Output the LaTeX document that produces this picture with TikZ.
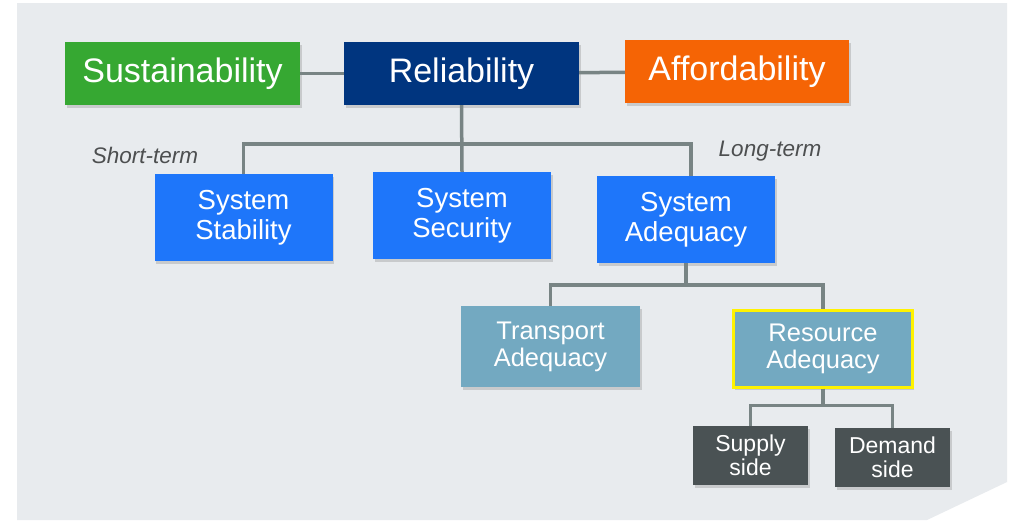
\documentclass[tikz,border=0pt]{standalone}
\usepackage{fontspec}
\setmainfont{Liberation Sans}
\usepackage{tikz}
\usetikzlibrary{
	shadows
}

\definecolor{panel}{HTML}{E8EBEE}
\definecolor{linkgrey}{HTML}{788484}
\definecolor{labelgrey}{HTML}{4D4F50}
\definecolor{sustgreen}{HTML}{36A832}
\definecolor{relnavy}{HTML}{00357F}
\definecolor{afforange}{HTML}{F56405}
\definecolor{sysblue}{HTML}{1E76FA}
\definecolor{adeqteal}{HTML}{73A9C1}
\definecolor{sidegrey}{HTML}{4A5254}

\tikzset{
	box/.style={rectangle,inner sep=0pt,text=white,align=center,
		drop shadow={shadow xshift=1.5pt,shadow yshift=-2.5pt,opacity=0.3}},
	goal/.style={box,minimum height=63pt,font=\fontsize{34}{36}\selectfont},
	system/.style={box,fill=sysblue,minimum width=178pt,minimum height=87pt,
		font=\fontsize{27.5}{30}\selectfont},
	adequacy/.style={box,fill=adeqteal,minimum width=179pt,
		font=\fontsize{25.5}{27}\selectfont},
	side/.style={box,fill=sidegrey,minimum width=115pt,minimum height=59pt,
		font=\fontsize{23}{24}\selectfont},
	horizon/.style={text=labelgrey,font=\fontsize{22.5}{24}\selectfont\itshape},
	link/.style={draw=linkgrey,line width=3.5pt}
}

\begin{document}
\begin{tikzpicture}[x=1pt,y=-1pt]
		% backdrop with the clipped corner
		\fill[white] (0,0) rectangle (1009,520);
		\fill[panel] (17,3) -- (1007,3) -- (1007,482) -- (927,520) -- (17,520) -- cycle;

		\draw
			node[goal,fill=sustgreen,minimum width=235pt] (sust) at (182.5,73.5) {Sustainability}
			node[goal,fill=relnavy,minimum width=235pt]   (rel)  at (461.5,73.5) {Reliability}
			node[goal,fill=afforange,minimum width=224pt] (aff)  at (737,71.5)   {Affordability}

			node[system] (stab) at (243.5,217.5) {System\\Stability}
			node[system] (sec)  at (462,215.5)   {System\\Security}
			node[system] (adeq) at (686,219.5)   {System\\Adequacy}

			node[adequacy,minimum height=81pt] (trans) at (550.5,346.5) {Transport\\Adequacy}
			node[adequacy,minimum height=77pt,draw=yellow,line width=3pt] (res) at (823,348.5) {Resource\\Adequacy}

			node[side] (sup) at (750.5,455.5) {Supply\\side}
			node[side] (dem) at (892.5,457.5) {Demand\\side}

			node[horizon] (short) at (145,155) {Short-term}
			node[horizon] (long)  at (770,151) {Long-term}
		;

		% connectors
		\draw[link] (sust) -- (rel);
		\draw[link] (rel) -- (aff);
		\draw[link] (rel.south) -- ++(0,39) -| (stab.north);
		\draw[link] (rel.south) -- ++(0,39) -| ([xshift=5pt]adeq.north);
		\draw[link] (rel.south) -- (sec.north);
		\draw[link] (adeq.south) -- ++(0,22) -| (trans.north);
		\draw[link] (adeq.south) -- ++(0,22) -| (res.north);
		\draw[link] (res.south) -- ++(0,17) -| (sup.north);
		\draw[link] (res.south) -- ++(0,17) -| (dem.north);
	\end{tikzpicture}
\end{document}
